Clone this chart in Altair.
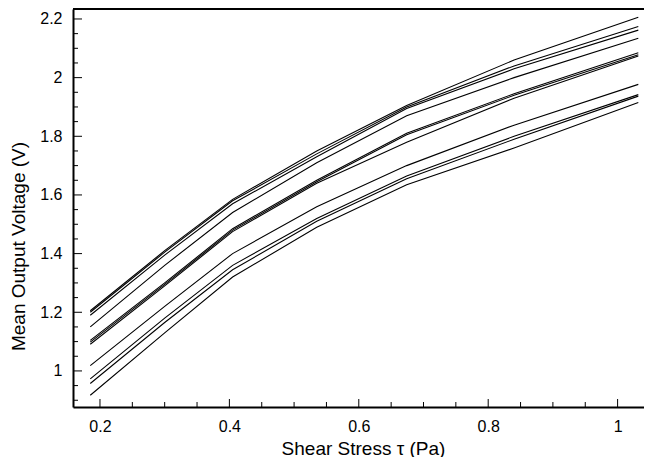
import altair as alt
import pandas as pd

# Shear stress values (Pa) at which each run was sampled
shear = [0.185, 0.300, 0.405, 0.535, 0.674, 0.840, 1.032]

# Mean output voltage (V) for each run
run01 = [1.205, 1.410, 1.585, 1.750, 1.905, 2.060, 2.206]
run02 = [1.200, 1.405, 1.580, 1.740, 1.900, 2.040, 2.174]
run03 = [1.190, 1.395, 1.570, 1.730, 1.895, 2.030, 2.162]
run04 = [1.150, 1.360, 1.540, 1.710, 1.870, 2.000, 2.134]
run05 = [1.104, 1.300, 1.485, 1.650, 1.810, 1.945, 2.085]
run06 = [1.098, 1.295, 1.480, 1.645, 1.805, 1.940, 2.078]
run07 = [1.091, 1.290, 1.475, 1.640, 1.780, 1.930, 2.074]
run08 = [1.018, 1.220, 1.400, 1.560, 1.700, 1.838, 1.977]
run09 = [0.973, 1.180, 1.360, 1.520, 1.665, 1.800, 1.942]
run10 = [0.957, 1.165, 1.345, 1.510, 1.655, 1.790, 1.937]
run11 = [0.917, 1.130, 1.320, 1.490, 1.635, 1.760, 1.915]

runs = [run01, run02, run03, run04, run05, run06, run07, run08, run09, run10, run11]

# Axis tick values
x_major = [0.2, 0.4, 0.6, 0.8, 1.0]
x_minor = [0.25, 0.3, 0.35, 0.45, 0.5, 0.55, 0.65, 0.7, 0.75, 0.85, 0.9, 0.95]
y_major = [1.0, 1.2, 1.4, 1.6, 1.8, 2.0, 2.2]
y_minor = [0.9, 0.95, 1.05, 1.1, 1.15, 1.25, 1.3, 1.35, 1.45, 1.5, 1.55,
           1.65, 1.7, 1.75, 1.85, 1.9, 1.95, 2.05, 2.1, 2.15]

rows = []
for i, r in enumerate(runs):
    for xv, yv in zip(shear, r):
        rows.append({"run": f"run{i+1}", "x": xv, "y": yv})
df = pd.DataFrame(rows)

W, H = 571, 398
FONT = "Liberation Sans"

xscale = alt.Scale(domain=[0.1583, 1.0408], nice=False, zero=False)
yscale = alt.Scale(domain=[0.877, 2.234], nice=False, zero=False)

xaxis = alt.Axis(values=x_major, format="~g", ticks=False, grid=False,
                 domainWidth=2, domainColor="black",
                 labelFontSize=16, labelColor="black", labelPadding=11,
                 labelFont=FONT, title="Shear Stress τ (Pa)", titleFont=FONT,
                 titleFontSize=19, titleFontWeight="normal", titleColor="black",
                 titlePadding=5, titleX=290)
yaxis = alt.Axis(values=y_major, format="~g", ticks=False, grid=False,
                 domainWidth=2, domainColor="black",
                 labelFontSize=16, labelColor="black", labelPadding=11,
                 labelFont=FONT, title="Mean Output Voltage (V)", titleFont=FONT,
                 titleFontSize=19, titleFontWeight="normal", titleColor="black",
                 titleX=-49, titleY=H / 2 + 38, titleBaseline="alphabetic")

X = alt.X("x:Q", scale=xscale, axis=xaxis)
Y = alt.Y("y:Q", scale=yscale, axis=yaxis)

lines = alt.Chart(df).mark_line(color="black", strokeWidth=1.1).encode(
    x=X, y=Y, detail="run:N"
)

xmaj = alt.Chart(pd.DataFrame({"x": x_major})).mark_rule(color="black", strokeWidth=1).encode(
    x=X, y=alt.value(H), y2=alt.value(H - 8))
xmin = alt.Chart(pd.DataFrame({"x": x_minor})).mark_rule(color="black", strokeWidth=1).encode(
    x=X, y=alt.value(H), y2=alt.value(H - 5))
ymaj = alt.Chart(pd.DataFrame({"y": y_major})).mark_rule(color="black", strokeWidth=1).encode(
    y=Y, x=alt.value(0), x2=alt.value(9))
ymin = alt.Chart(pd.DataFrame({"y": y_minor})).mark_rule(color="black", strokeWidth=1).encode(
    y=Y, x=alt.value(0), x2=alt.value(5))
topline = alt.Chart(pd.DataFrame({"a": [0]})).mark_rule(color="black", strokeWidth=2).encode(
    y=alt.value(0), x=alt.value(0), x2=alt.value(W))

chart = alt.layer(lines, xmaj, xmin, ymaj, ymin, topline).properties(
    width=W, height=H,
    padding={"left": 65, "top": 1, "right": 0, "bottom": 50},
    autosize=alt.AutoSizeParams(type="none"),
).configure_view(stroke=None).configure(background="white")

chart.save("out.html", embed_options={"renderer": "svg", "actions": False})
